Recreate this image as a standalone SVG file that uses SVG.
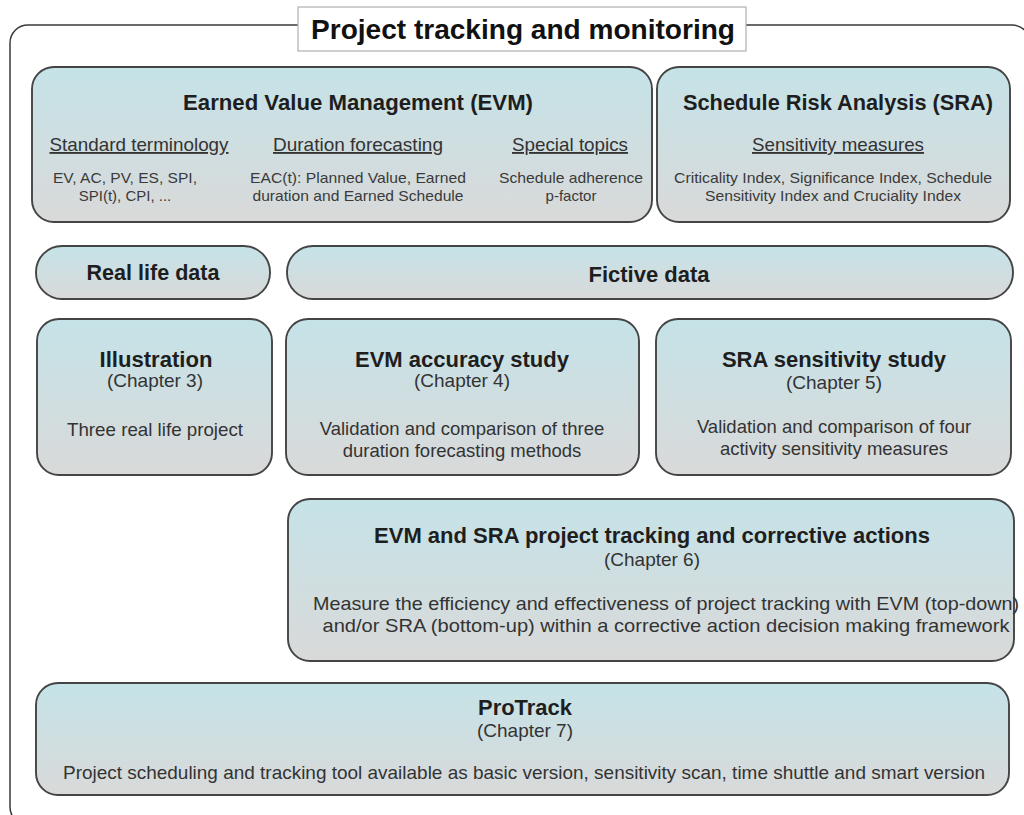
<svg xmlns="http://www.w3.org/2000/svg" width="1024" height="815" viewBox="0 0 1024 815">
<defs>
<linearGradient id="g" x1="0" y1="0" x2="0" y2="1">
<stop offset="0" stop-color="#c5e3e8"/>
<stop offset="1" stop-color="#d9d9d9"/>
</linearGradient>
<style>
.box{fill:url(#g);stroke:#444444;stroke-width:1.9}
.frame{fill:none;stroke:#3a3a3a;stroke-width:1.5}
text{font-family:"Liberation Sans",Arial,sans-serif;text-anchor:middle}
.h{font-weight:bold;font-size:22px;fill:#1e1e1e}
.t{font-weight:bold;font-size:28px;fill:#111}
.s{font-size:18.5px;fill:#333;text-decoration:underline}
.b{font-size:15px;fill:#3a3a3a}
.c{font-size:18.5px;fill:#333}
</style>
</defs>
<rect width="1024" height="815" fill="#ffffff"/>
<g id="frame">
<rect class="frame" x="10" y="25" width="1020" height="800" rx="18"/>
<rect x="298" y="7" width="448" height="44" fill="#ffffff" stroke="#b0b0b0" stroke-width="1.2"/>
<text class="t" x="523" y="39" textLength="424" lengthAdjust="spacingAndGlyphs">Project tracking and monitoring</text>
</g>
<g id="connectors"/>
<g id="evm">
<rect class="box" x="32" y="67" width="620" height="155" rx="22"/>
<text class="h" x="358" y="110" textLength="350" lengthAdjust="spacingAndGlyphs">Earned Value Management (EVM)</text>
<text class="s" x="139" y="151" textLength="179" lengthAdjust="spacingAndGlyphs">Standard terminology</text>
<text class="s" x="358" y="151" textLength="170" lengthAdjust="spacingAndGlyphs">Duration forecasting</text>
<text class="s" x="570" y="151" textLength="116" lengthAdjust="spacingAndGlyphs">Special topics</text>
<text class="b" x="125" y="183" textLength="144" lengthAdjust="spacingAndGlyphs">EV, AC, PV, ES, SPI,</text>
<text class="b" x="125" y="201">SPI(t), CPI, ...</text>
<text class="b" x="358" y="183" textLength="216" lengthAdjust="spacingAndGlyphs">EAC(t): Planned Value, Earned</text>
<text class="b" x="358" y="201" textLength="211" lengthAdjust="spacingAndGlyphs">duration and Earned Schedule</text>
<text class="b" x="571" y="183" textLength="144" lengthAdjust="spacingAndGlyphs">Schedule adherence</text>
<text class="b" x="571" y="201">p-factor</text>
</g>
<g id="sra">
<rect class="box" x="657" y="67" width="353" height="155" rx="22"/>
<text class="h" x="838" y="110" textLength="310" lengthAdjust="spacingAndGlyphs">Schedule Risk Analysis (SRA)</text>
<text class="s" x="838" y="151" textLength="172" lengthAdjust="spacingAndGlyphs">Sensitivity measures</text>
<text class="b" x="833" y="183" textLength="318" lengthAdjust="spacingAndGlyphs">Criticality Index, Significance Index, Schedule</text>
<text class="b" x="833" y="201" textLength="256" lengthAdjust="spacingAndGlyphs">Sensitivity Index and Cruciality Index</text>
</g>
<g id="real-life-data">
<rect class="box" x="36" y="246" width="234" height="53" rx="26"/>
<text class="h" x="153" y="280" textLength="133" lengthAdjust="spacingAndGlyphs">Real life data</text>
</g>
<g id="fictive-data">
<rect class="box" x="287" y="246" width="726" height="53" rx="26"/>
<text class="h" x="649" y="282">Fictive data</text>
</g>
<g id="illustration">
<rect class="box" x="37" y="319" width="235" height="156" rx="22"/>
<text class="h" x="156" y="367" textLength="113" lengthAdjust="spacingAndGlyphs">Illustration</text>
<text class="c" x="155" y="387" textLength="96" lengthAdjust="spacingAndGlyphs">(Chapter 3)</text>
<text class="c" x="155" y="436" textLength="176" lengthAdjust="spacingAndGlyphs">Three real life project</text>
</g>
<g id="evm-accuracy">
<rect class="box" x="286" y="319" width="353" height="156" rx="22"/>
<text class="h" x="462" y="367">EVM accuracy study</text>
<text class="c" x="462" y="387" textLength="96" lengthAdjust="spacingAndGlyphs">(Chapter 4)</text>
<text class="c" x="462" y="435">Validation and comparison of three</text>
<text class="c" x="462" y="457">duration forecasting methods</text>
</g>
<g id="sra-sensitivity">
<rect class="box" x="656" y="319" width="355" height="156" rx="22"/>
<text class="h" x="834" y="367">SRA sensitivity study</text>
<text class="c" x="834" y="389" textLength="96" lengthAdjust="spacingAndGlyphs">(Chapter 5)</text>
<text class="c" x="834" y="433">Validation and comparison of four</text>
<text class="c" x="834" y="455">activity sensitivity measures</text>
</g>
<g id="corrective-actions">
<rect class="box" x="288" y="499" width="726" height="162" rx="22"/>
<text class="h" x="652" y="543" textLength="556" lengthAdjust="spacingAndGlyphs">EVM and SRA project tracking and corrective actions</text>
<text class="c" x="652" y="566" textLength="96" lengthAdjust="spacingAndGlyphs">(Chapter 6)</text>
<text class="c" x="666" y="610" textLength="706" lengthAdjust="spacingAndGlyphs">Measure the efficiency and effectiveness of project tracking with EVM (top-down)</text>
<text class="c" x="666" y="632" textLength="687" lengthAdjust="spacingAndGlyphs">and/or SRA (bottom-up) within a corrective action decision making framework</text>
</g>
<g id="protrack">
<rect class="box" x="36" y="683" width="973" height="112" rx="22"/>
<text class="h" x="525" y="715" textLength="94" lengthAdjust="spacingAndGlyphs">ProTrack</text>
<text class="c" x="525" y="737" textLength="96" lengthAdjust="spacingAndGlyphs">(Chapter 7)</text>
<text class="c" x="524" y="779" textLength="922" lengthAdjust="spacingAndGlyphs">Project scheduling and tracking tool available as basic version, sensitivity scan, time shuttle and smart version</text>
</g>
</svg>
